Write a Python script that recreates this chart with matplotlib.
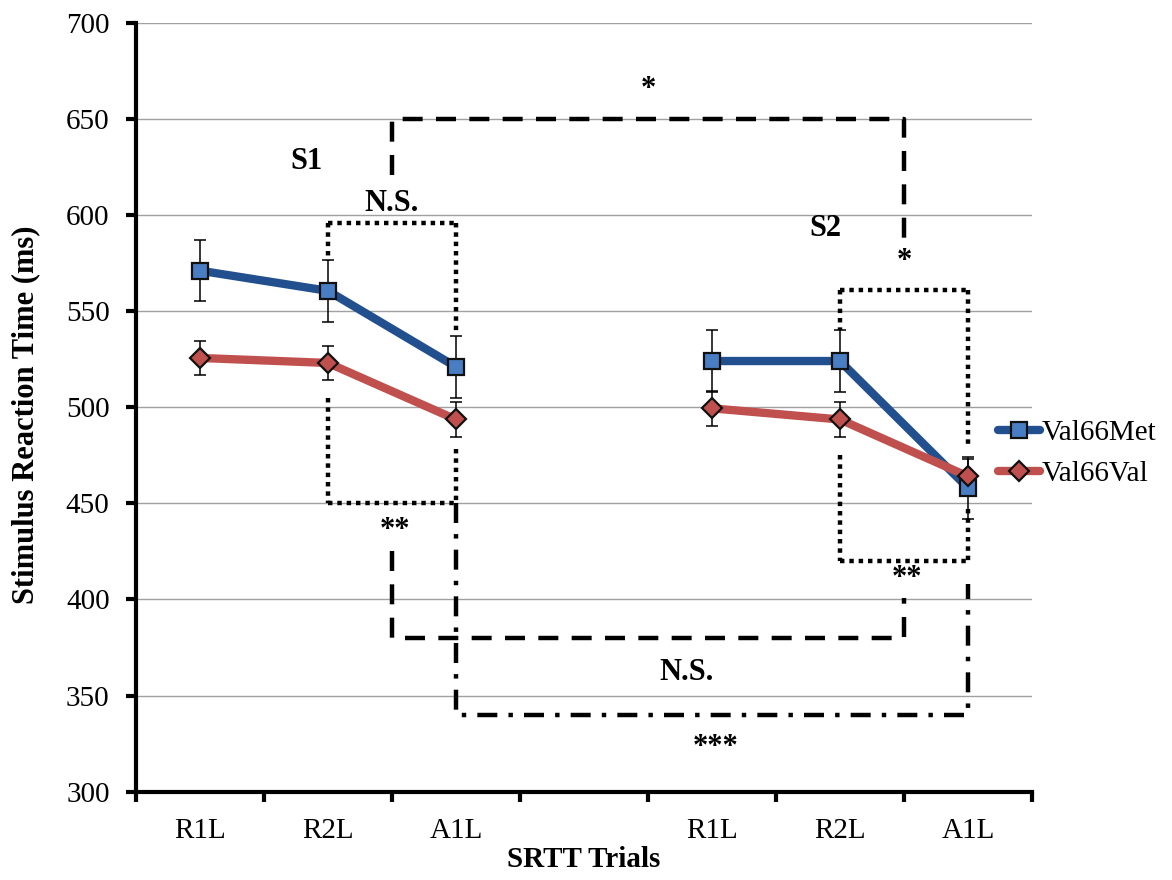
import numpy as np
import matplotlib
matplotlib.use('Agg')
import matplotlib.pyplot as plt

# categorias (la posicion 3 queda vacia, separa S1 de S2)
ensayos = ['R1L', 'R2L', 'A1L', '', 'R1L', 'R2L', 'A1L']
val66met = [571, 560.5, 521, np.nan, 524, 524, 458]
val66val = [525.6, 523, 493.6, np.nan, 499.4, 493.6, 464]
err_met = [16, 16, 16, 0, 16, 16, 16]
err_val = [9, 9, 9, 0, 9, 9, 9]

plt.rcParams['font.family'] = ['Liberation Serif', 'DejaVu Serif']

fig = plt.figure(figsize=(11.72, 8.8), dpi=100)
ax = fig.add_axes([0.116, 0.1003, 0.7645, 0.874])

x = np.arange(len(ensayos))

ax.errorbar(x, val66met, yerr=err_met, fmt='none', ecolor='black',
            elinewidth=1.1, capsize=4, capthick=1.1, zorder=2.5)
ax.errorbar(x, val66val, yerr=err_val, fmt='none', ecolor='black',
            elinewidth=1.1, capsize=4, capthick=1.1, zorder=2.5)

ax.plot(x, val66met, color='#22508F', lw=6, marker='s', ms=11,
        mfc='#4A7EC4', mec='#111111', mew=1.6, label='Val66Met', zorder=4,
        solid_capstyle='round')
ax.plot(x, val66val, color='#C0504D', lw=6, marker='D', ms=10,
        mfc='#C0504D', mec='#111111', mew=1.6, label='Val66Val', zorder=4,
        solid_capstyle='round')

# recuadros y corchetes de significancia
lw_b = 3.2
punteado = (0, (1.0, 1.1))
rayas = (0, (4.5, 3.0))
raya_punto = (0, (4.5, 2.5, 1.0, 2.5))

def segmento(xs, ys, estilo):
    ax.plot(xs, ys, color='black', lw=lw_b, linestyle=estilo, zorder=3)

# recuadro S1
segmento([1, 2], [596, 596], punteado)
segmento([1, 2], [450, 450], punteado)
segmento([1, 1], [596, 576], punteado)
segmento([1, 1], [505, 450], punteado)
segmento([2, 2], [596, 538], punteado)
segmento([2, 2], [478, 450], punteado)

# recuadro S2
segmento([5, 6], [561, 561], punteado)
segmento([5, 6], [420, 420], punteado)
segmento([5, 5], [561, 540], punteado)
segmento([5, 5], [475, 420], punteado)
segmento([6, 6], [561, 481], punteado)
segmento([6, 6], [447, 420], punteado)

# corchetes
segmento([1.5, 1.5, 5.5, 5.5], [621, 650, 650, 586], rayas)
segmento([1.5, 1.5, 5.5, 5.5], [425, 380, 380, 401], rayas)
segmento([2, 2, 6, 6], [450, 340, 340, 408], raya_punto)

textos = [
    (3.5, 665, '*'),
    (0.83, 628, 'S1'),
    (1.5, 606, 'N.S.'),
    (4.89, 593, 'S2'),
    (5.5, 576, '*'),
    (1.52, 436, '**'),
    (5.52, 411, '**'),
    (3.8, 362, 'N.S.'),
    (4.03, 323, '***'),
]
for tx, ty, t in textos:
    ax.text(tx, ty, t, ha='center', va='center', fontsize=22,
            fontweight='bold', zorder=5)

ax.set_xlim(-0.5, 6.5)
ax.set_ylim(300, 700)
ax.set_yticks(np.arange(300, 701, 50))
ax.set_xticks(x)
ax.set_xticklabels(ensayos)
ax.set_xticks(np.arange(-0.5, 7, 1), minor=True)
ax.tick_params(axis='x', which='major', length=0, pad=19, labelsize=21)
ax.tick_params(axis='x', which='minor', length=7, width=3, direction='out')
ax.tick_params(axis='y', length=7, width=3, direction='out', pad=12,
               labelsize=21)

ax.grid(axis='y', color='#A0A0A0', lw=1.0)
ax.set_axisbelow(True)
for lado in ['top', 'right']:
    ax.spines[lado].set_visible(False)
for lado in ['left', 'bottom']:
    ax.spines[lado].set_linewidth(3)

ax.set_xlabel('SRTT Trials', fontsize=21, fontweight='bold', labelpad=1)
ax.set_ylabel('Stimulus Reaction Time (ms)', fontsize=22, fontweight='bold')
ax.yaxis.set_label_coords(-0.107, 0.49)

ax.legend(loc='center left', bbox_to_anchor=(0.8515, 0.485),
          bbox_transform=fig.transFigure, frameon=False, fontsize=21,
          handlelength=1.45, handletextpad=0.05, borderpad=0,
          borderaxespad=0, labelspacing=0.5)

fig.savefig('out.png', dpi=100)
